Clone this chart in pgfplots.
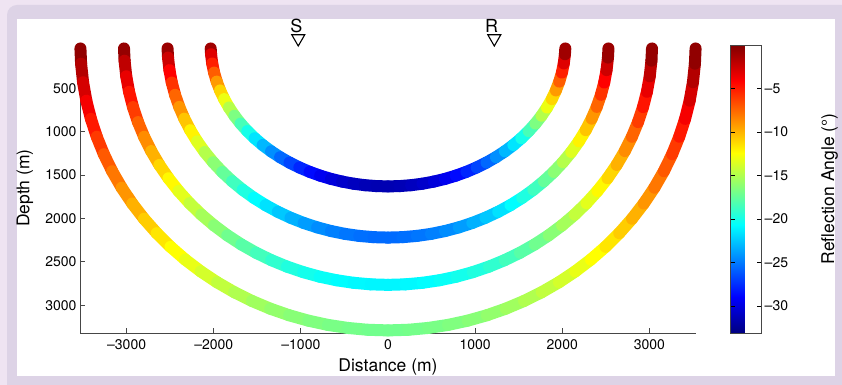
\documentclass[border=0pt]{standalone}
\usepackage{fontspec}
\setmainfont{TeX Gyre Heros}
\usepackage{pgfplots}
\usepackage{pgfplotstable}
\pgfplotsset{compat=1.18}
\definecolor{outerbg}{RGB}{239,228,242}
\definecolor{framebg}{RGB}{221,211,230}
\definecolor{axgray}{RGB}{70,70,70}
\pgfplotstableread{
x y c
-2035 40 0
-2030.6 106.6 -2.06
-2017.6 212.8 -4.11
-1995.9 318.0 -6.15
-1965.7 421.9 -8.15
-1927.0 523.9 -10.13
-1880.1 623.8 -12.05
-1825.1 720.9 -13.93
-1762.4 815 -15.75
-1692.0 905.6 -17.50
-1614.5 992.3 -19.18
-1530.0 1074.7 -20.77
-1439.0 1152.6 -22.27
-1341.8 1225.5 -23.68
-1238.8 1293.2 -24.99
-1130.6 1355.3 -26.19
-1017.5 1411.6 -27.28
-900.1 1461.9 -28.25
-778.8 1505.9 -29.10
-654.1 1543.5 -29.83
-526.7 1574.5 -30.43
-397.0 1598.7 -30.89
-265.6 1616.0 -31.23
-133.1 1626.5 -31.43
0 1630 -31.5
133.1 1626.5 -31.43
265.6 1616.0 -31.23
397.0 1598.7 -30.89
526.7 1574.5 -30.43
654.1 1543.5 -29.83
778.8 1505.9 -29.10
900.1 1461.9 -28.25
1017.5 1411.6 -27.28
1130.6 1355.3 -26.19
1238.8 1293.2 -24.99
1341.8 1225.5 -23.68
1439.0 1152.6 -22.27
1530.0 1074.7 -20.77
1614.5 992.3 -19.18
1692.0 905.6 -17.50
1762.4 815 -15.75
1825.1 720.9 -13.93
1880.1 623.8 -12.05
1927.0 523.9 -10.13
1965.7 421.9 -8.15
1995.9 318.0 -6.15
2017.6 212.8 -4.11
2030.6 106.6 -2.06
2035 40 0
}\ellA
\pgfplotstableread{
x y c
-2530 40 0
-2524.6 145.2 -1.67
-2508.3 289.8 -3.33
-2481.4 433.1 -4.97
-2443.8 574.6 -6.60
-2395.7 713.6 -8.20
-2337.4 849.5 -9.76
-2269.1 981.9 -11.28
-2191.1 1110 -12.75
-2103.6 1233.4 -14.17
-2007.2 1351.4 -15.52
-1902.2 1463.8 -16.81
-1789.0 1569.8 -18.03
-1668.2 1669.1 -19.17
-1540.2 1761.2 -20.23
-1405.6 1845.9 -21.20
-1265 1922.6 -22.08
-1119.0 1991.1 -22.87
-968.2 2051.0 -23.56
-813.2 2102.2 -24.15
-654.8 2144.4 -24.63
-493.6 2177.4 -25.01
-330.2 2201.0 -25.28
-165.5 2215.2 -25.45
0 2220 -25.5
165.5 2215.2 -25.45
330.2 2201.0 -25.28
493.6 2177.4 -25.01
654.8 2144.4 -24.63
813.2 2102.2 -24.15
968.2 2051.0 -23.56
1119.0 1991.1 -22.87
1265 1922.6 -22.08
1405.6 1845.9 -21.20
1540.2 1761.2 -20.23
1668.2 1669.1 -19.17
1789.0 1569.8 -18.03
1902.2 1463.8 -16.81
2007.2 1351.4 -15.52
2103.6 1233.4 -14.17
2191.1 1110 -12.75
2269.1 981.9 -11.28
2337.4 849.5 -9.76
2395.7 713.6 -8.20
2443.8 574.6 -6.60
2481.4 433.1 -4.97
2508.3 289.8 -3.33
2524.6 145.2 -1.67
2530 40 0
}\ellB
\pgfplotstableread{
x y c
-3030 40 0
-3023.5 180.8 -1.37
-3004.1 360.9 -2.74
-2971.8 539.4 -4.10
-2926.8 715.6 -5.44
-2869.2 888.8 -6.75
-2799.4 1058.1 -8.04
-2717.5 1222.9 -9.29
-2624.1 1382.5 -10.5
-2519.4 1536.2 -11.67
-2403.9 1683.2 -12.78
-2278.1 1823.1 -13.85
-2142.5 1955.2 -14.85
-1997.8 2078.8 -15.79
-1844.5 2193.6 -16.66
-1683.4 2299.0 -17.46
-1515 2394.6 -18.19
-1340.1 2479.8 -18.83
-1159.5 2554.5 -19.40
-974.0 2618.3 -19.89
-784.2 2670.8 -20.28
-591.1 2711.9 -20.60
-395.5 2741.3 -20.82
-198.2 2759.1 -20.96
0 2765 -21
198.2 2759.1 -20.96
395.5 2741.3 -20.82
591.1 2711.9 -20.60
784.2 2670.8 -20.28
974.0 2618.3 -19.89
1159.5 2554.5 -19.40
1340.1 2479.8 -18.83
1515 2394.6 -18.19
1683.4 2299.0 -17.46
1844.5 2193.6 -16.66
1997.8 2078.8 -15.79
2142.5 1955.2 -14.85
2278.1 1823.1 -13.85
2403.9 1683.2 -12.78
2519.4 1536.2 -11.67
2624.1 1382.5 -10.5
2717.5 1222.9 -9.29
2799.4 1058.1 -8.04
2869.2 888.8 -6.75
2926.8 715.6 -5.44
2971.8 539.4 -4.10
3004.1 360.9 -2.74
3023.5 180.8 -1.37
3030 40 0
}\ellC
\pgfplotstableread{
x y c
-3530 40 0
-3522.4 215.2 -1.11
-3499.8 429.4 -2.22
-3462.2 641.8 -3.32
-3409.7 851.5 -4.40
-3342.7 1057.5 -5.46
-3261.3 1259.0 -6.51
-3166.0 1455.1 -7.52
-3057.1 1645 -8.5
-2935.1 1827.8 -9.44
-2800.5 2002.8 -10.35
-2654.0 2169.3 -11.21
-2496.1 2326.4 -12.02
-2327.5 2473.6 -12.78
-2148.9 2610.1 -13.49
-1961.2 2735.5 -14.13
-1765 2849.2 -14.72
-1561.3 2950.7 -15.25
-1350.9 3039.6 -15.71
-1134.7 3115.4 -16.10
-913.6 3177.9 -16.42
-688.7 3226.8 -16.67
-460.8 3261.8 -16.85
-230.9 3283.0 -16.96
0 3290 -17
230.9 3283.0 -16.96
460.8 3261.8 -16.85
688.7 3226.8 -16.67
913.6 3177.9 -16.42
1134.7 3115.4 -16.10
1350.9 3039.6 -15.71
1561.3 2950.7 -15.25
1765 2849.2 -14.72
1961.2 2735.5 -14.13
2148.9 2610.1 -13.49
2327.5 2473.6 -12.78
2496.1 2326.4 -12.02
2654.0 2169.3 -11.21
2800.5 2002.8 -10.35
2935.1 1827.8 -9.44
3057.1 1645 -8.5
3166.0 1455.1 -7.52
3261.3 1259.0 -6.51
3342.7 1057.5 -5.46
3409.7 851.5 -4.40
3462.2 641.8 -3.32
3499.8 429.4 -2.22
3522.4 215.2 -1.11
3530 40 0
}\ellD
\begin{document}
\begin{tikzpicture}
\fill[outerbg] (0,0) rectangle (842bp,385bp);
\path[use as bounding box] (0,0) rectangle (842bp,385bp);
\fill[framebg, rounded corners=10bp] (7bp,-20bp) rectangle (870bp,380bp);
\fill[white] (17bp,9bp) rectangle (835bp,366bp);
\begin{axis}[
  at={(80bp,52bp)}, anchor=south west,
  scale only axis, width=616bp, height=288bp,
  xmin=-3535, xmax=3535, ymin=0, ymax=3320, y dir=reverse,
  axis x line*=bottom, axis y line*=left,
  axis line style={axgray, line width=0.8bp},
  tick align=inside, major tick length=5bp,
  tick style={axgray, line width=0.8bp},
  xtick={-3000,-2000,...,3000},
  xticklabels={\textendash3000,\textendash2000,\textendash1000,0,1000,2000,3000},
  ytick={500,1000,...,3000},
  yticklabels={500,1000,1500,2000,2500,3000},
  xticklabel style={yshift=-3bp},
  every tick label/.append style={font=\fontsize{14bp}{16bp}\selectfont},
  xlabel={Distance (m)},
  xlabel style={at={(axis description cs:0.5,-0.117)}, anchor=center, font=\fontsize{17.5bp}{20bp}\selectfont},
  ylabel={Depth (m)},
  ylabel style={at={(axis description cs:-0.0893,0.503)}, anchor=center, font=\fontsize{17.5bp}{20bp}\selectfont},
  clip=false,
  colormap/jet,
  point meta min=-33.1, point meta max=0,
  colorbar,
  colorbar style={
    at={(parent axis.north east)}, anchor=north west, xshift=26.3bp,
    width=30.4bp, height=288bp,
    ytick={-30,-25,...,-5},
    yticklabels={\textendash30,\textendash25,\textendash20,\textendash15,\textendash10,\textendash5},
    tick align=inside, major tick length=4bp,
    ytick pos=both, yticklabel pos=right,
    tick style={black, line width=0.6bp},
    axis line style={axgray, line width=0.8bp},
    every tick label/.append style={font=\fontsize{14bp}{16bp}\selectfont},
    ylabel={Reflection Angle (°)},
    ylabel style={at={(axis description cs:3.25,0.5)}, anchor=center, font=\fontsize{17.5bp}{20bp}\selectfont},
  },
]
\addplot[mesh, point meta=explicit, line width=12bp, line cap=round] table[meta=c] {\ellA};
\addplot[mesh, point meta=explicit, line width=12bp, line cap=round] table[meta=c] {\ellB};
\addplot[mesh, point meta=explicit, line width=12bp, line cap=round] table[meta=c] {\ellC};
\addplot[mesh, point meta=explicit, line width=12bp, line cap=round] table[meta=c] {\ellD};
\addplot[only marks, mark=triangle, mark size=7.5bp, mark options={rotate=180, draw=black, fill=white, line width=1.1bp}] coordinates {(-1030,-75) (1220,-75)};
\node[font=\fontsize{18bp}{18bp}\selectfont] at (axis cs:-1053,-225) {S};
\node[font=\fontsize{18bp}{18bp}\selectfont] at (axis cs:1189,-225) {R};
\end{axis}
\end{tikzpicture}
\end{document}
